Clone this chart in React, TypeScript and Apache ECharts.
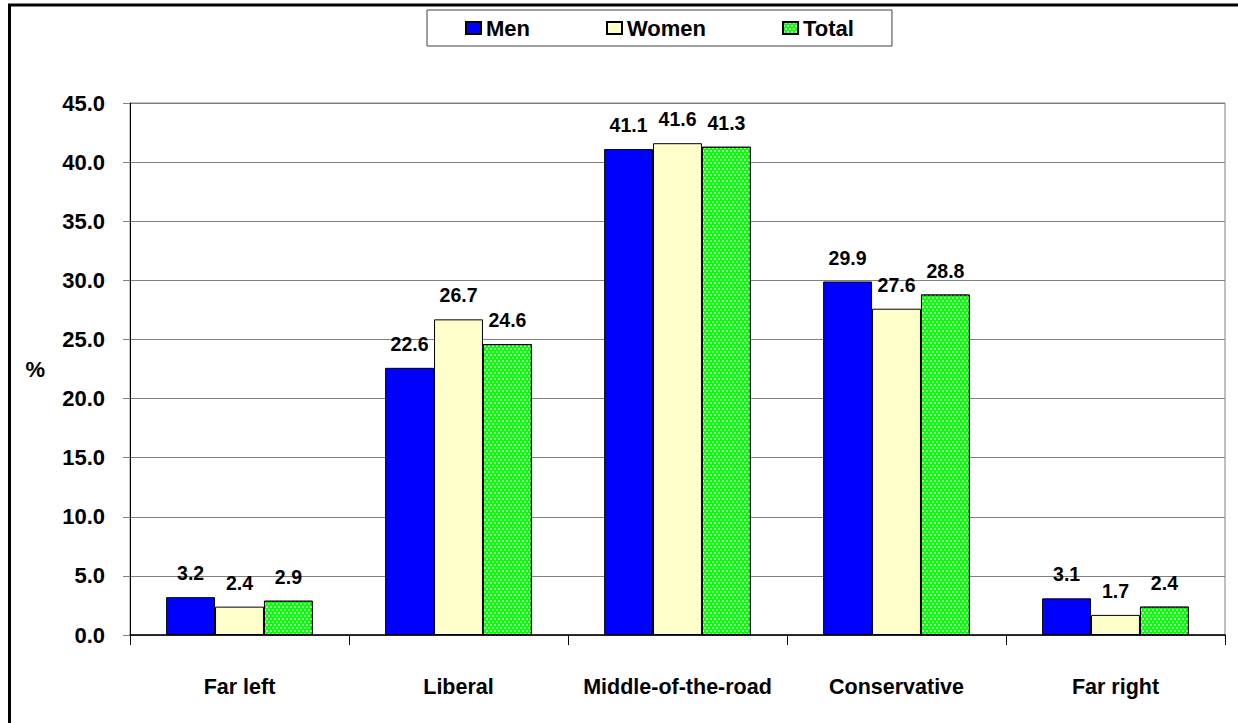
import React, { useEffect, useRef } from "react";
import * as echarts from "echarts";

const categories = ["Far left", "Liberal", "Middle-of-the-road", "Conservative", "Far right"];
const men = [3.2, 22.6, 41.1, 29.9, 3.1];
const women = [2.4, 26.7, 41.6, 27.6, 1.7];
const total = [2.9, 24.6, 41.3, 28.8, 2.4];

const FONT = "'Liberation Sans', Arial, sans-serif";

export default function App() {
  const ref = useRef<HTMLDivElement>(null);
  useEffect(() => {
    if (!ref.current) return;
    const chart = echarts.init(ref.current, undefined, { renderer: "svg" });
    const label = {
      show: true,
      position: "top",
      distance: 14,
      fontFamily: FONT,
      fontWeight: "bold",
      fontSize: 19.5,
      color: "#000",
      formatter: (p: any) => Number(p.value).toFixed(1),
    };
    chart.setOption({
      animation: false,
      textStyle: { fontFamily: FONT },
      graphic: [
        { type: "line", shape: { x1: 8, y1: 5, x2: 1238, y2: 5 }, style: { stroke: "#000", lineWidth: 3 } },
        { type: "line", shape: { x1: 9.5, y1: 5, x2: 9.5, y2: 723 }, style: { stroke: "#000", lineWidth: 3 } },
      ],
      legend: {
        left: 427,
        top: 10,
        padding: [7, 38, 7, 38],
        borderColor: "#404040",
        borderWidth: 1,
        itemGap: 76,
        itemWidth: 15,
        itemHeight: 12,
        icon: "rect",
        textStyle: { fontFamily: FONT, fontWeight: "bold", fontSize: 22, color: "#000", lineHeight: 21 },
        data: ["Men", "Women", "Total"],
      },
      grid: {
        left: 130,
        right: 13,
        top: 103,
        bottom: 88,
        show: true,
        borderColor: "#808080",
        borderWidth: 1,
      },
      xAxis: {
        type: "category",
        data: categories,
        axisLine: { show: true, lineStyle: { color: "#000", width: 1.5 } },
        axisTick: { show: true, length: 10, lineStyle: { color: "#000" } },
        axisLabel: {
          interval: 0,
          margin: 41,
          fontFamily: FONT,
          fontWeight: "bold",
          fontSize: 21.5,
          color: "#000",
        },
      },
      yAxis: {
        type: "value",
        min: 0,
        max: 45,
        interval: 5,
        name: "%",
        nameLocation: "middle",
        nameRotate: 0,
        nameGap: 85,
        nameTextStyle: { fontFamily: FONT, fontWeight: "bold", fontSize: 22, color: "#000" },
        axisLine: { show: true, lineStyle: { color: "#000", width: 1 } },
        axisTick: { show: true, length: 7, lineStyle: { color: "#808080" } },
        splitLine: { show: true, lineStyle: { color: "#808080", width: 1 } },
        axisLabel: {
          margin: 25,
          fontFamily: FONT,
          fontWeight: "bold",
          fontSize: 22,
          color: "#000",
          formatter: (v: number) => v.toFixed(1),
        },
      },
      series: [
        {
          name: "Men",
          type: "bar",
          data: men,
          barGap: "0%",
          barCategoryGap: "33%",
          itemStyle: { color: "#0000FF", borderColor: "#000", borderWidth: 1 },
          label,
        },
        {
          name: "Women",
          type: "bar",
          data: women,
          barGap: "0%",
          barCategoryGap: "33%",
          itemStyle: { color: "#FFFFCC", borderColor: "#000", borderWidth: 1 },
          label,
        },
        {
          name: "Total",
          type: "bar",
          data: total,
          barGap: "0%",
          barCategoryGap: "33%",
          itemStyle: {
            color: "#00FF00",
            borderColor: "#000",
            borderWidth: 1,
            decal: {
              symbol: "circle",
              symbolSize: 1,
              color: "rgba(255,255,255,0.8)",
              dashArrayX: [[2, 2], [0, 2, 2, 0]],
              dashArrayY: [2, 1],
              rotation: 0,
            },
          },
          label,
        },
      ],
    });
    return () => chart.dispose();
  }, []);
  return (
    <div
      ref={ref}
      style={{ position: "absolute", left: 0, top: 0, width: 1238, height: 723, background: "#fff" }}
    />
  );
}
